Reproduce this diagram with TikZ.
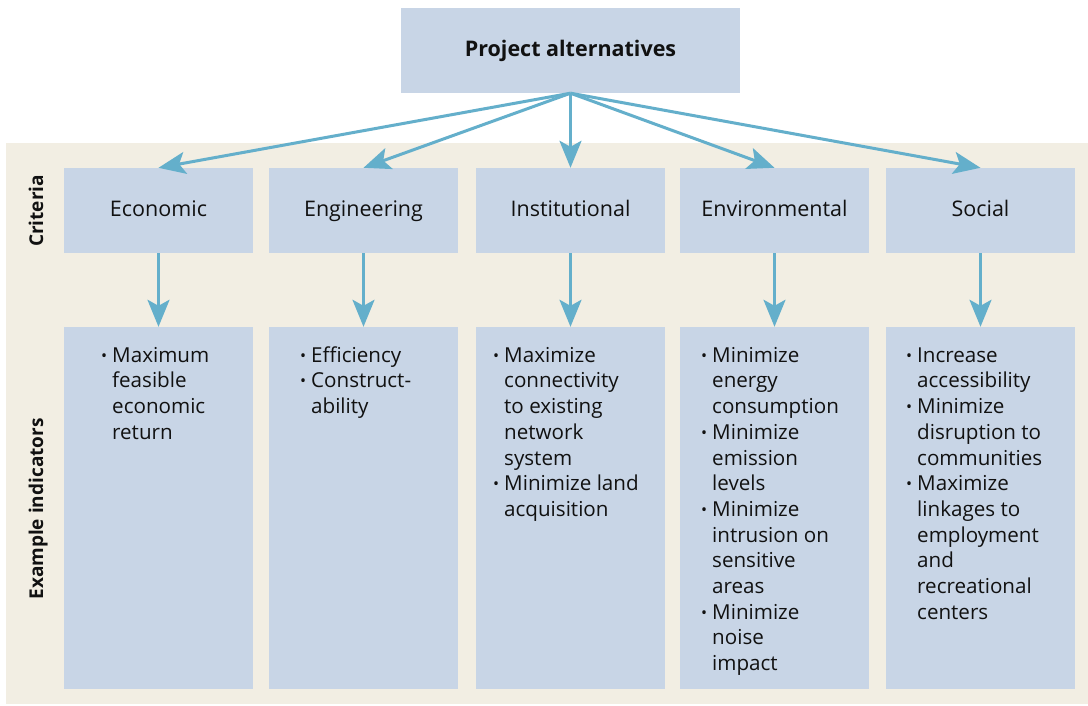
\documentclass[tikz,border=0pt]{standalone}
\usepackage{fontspec}
\setmainfont{Open Sans}
\usetikzlibrary{arrows.meta}
\definecolor{boxfill}{HTML}{C8D5E6}
\definecolor{beige}{HTML}{F2EEE3}
\definecolor{arrowc}{HTML}{64AFCB}
\definecolor{ink}{HTML}{111111}
\newcommand\bul{\llap{{\fontsize{16}{16}\selectfont\raisebox{1.2pt}{\textbullet}}\hspace{5pt}}}
\newcommand\fst{\rule{0pt}{17pt}}
\begin{document}
\begin{tikzpicture}[x=1pt,y=-1pt,
  crit/.style={fill=boxfill, inner sep=0, minimum width=189pt, minimum height=85pt, text height=16pt, text depth=4pt, text=ink, font=\fontsize{21.5}{24}\selectfont},
  ind/.style={fill=boxfill, inner sep=0, minimum width=189pt, minimum height=362pt},
  itext/.style={anchor=north west, align=left, inner sep=0, text=ink, font=\fontsize{20.6}{25.7}\selectfont},
  side/.style={rotate=90, anchor=base, inner sep=0, text=ink, font=\bfseries\fontsize{19}{19}\selectfont},
  arr/.style={draw=arrowc, line width=3pt, -{Stealth[length=27pt,width=22pt,inset=6pt]}}]
\useasboundingbox (0,0) rectangle (1088,706);
\fill[white] (0,0) rectangle (1088,706);
\fill[beige] (6,143) rectangle (1088,704);

\node[fill=boxfill, inner sep=0, minimum width=339pt, minimum height=85pt, text height=16pt, text depth=4pt, text=ink, font=\bfseries\fontsize{21.5}{24}\selectfont] (top) at (570.5,50.5) {Project alternatives};

\node[crit] (c1) at (158.5,210.5) {Economic};
\node[crit] (c2) at (363.5,210.5) {Engineering};
\node[crit] (c3) at (570.5,210.5) {Institutional};
\node[crit] (c4) at (774.5,210.5) {Environmental};
\node[crit] (c5) at (980.5,210.5) {Social};

\node[ind] (i1) at (158.5,508) {};
\node[ind] (i2) at (363.5,508) {};
\node[ind] (i3) at (570.5,508) {};
\node[ind] (i4) at (774.5,508) {};
\node[ind] (i5) at (980.5,508) {};

\node[side] (lc) at (43,211) {Criteria};
\node[side] (li) at (43,509) {Example indicators};

\node[itext] (t1) at (112,345) {\bul\fst Maximum\\feasible\\economic\\return};
\node[itext] (t2) at (311,345) {\bul\fst Efficiency\\\bul Construct-\\ability};
\node[itext] (t3) at (504,345) {\bul\fst Maximize\\connectivity\\to existing\\network\\system\\\bul Minimize land\\acquisition};
\node[itext] (t4) at (712,345) {\bul\fst Minimize\\energy\\consumption\\\bul Minimize\\emission\\levels\\\bul Minimize\\intrusion on\\sensitive\\areas\\\bul Minimize\\noise\\impact};
\node[itext] (t5) at (917,345) {\bul\fst Increase\\accessibility\\\bul Minimize\\disruption to\\communities\\\bul Maximize\\linkages to\\employment\\and\\recreational\\centers};

\foreach \c in {c1,c2,c3,c4,c5} \draw[arr] (top.south) -- (\c.north);
\draw[arr] (c1.south) -- (i1.north);
\draw[arr] (c2.south) -- (i2.north);
\draw[arr] (c3.south) -- (i3.north);
\draw[arr] (c4.south) -- (i4.north);
\draw[arr] (c5.south) -- (i5.north);
\end{tikzpicture}
\end{document}
